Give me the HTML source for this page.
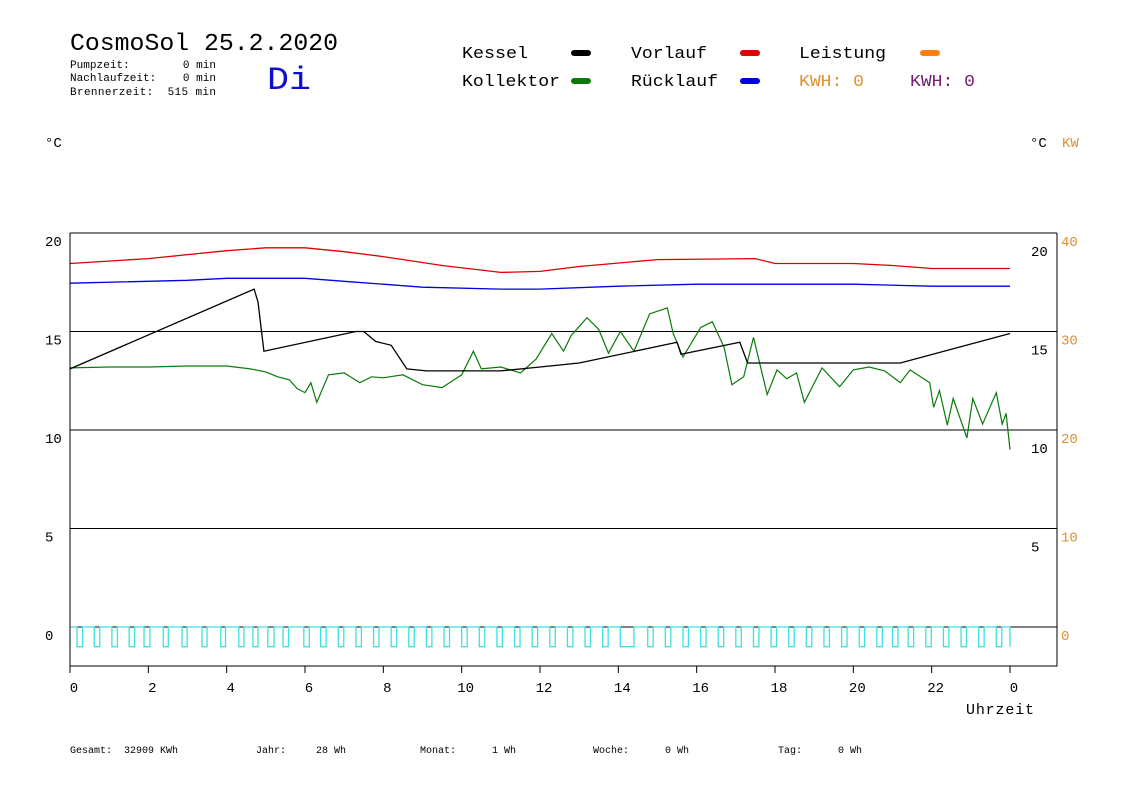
<!DOCTYPE html>
<html><head><meta charset="utf-8"><style>
body{margin:0;background:#fff;}
svg{display:block;}
text{font-family:"Liberation Mono",monospace;}
</style></head><body>
<svg id="chart" width="1148" height="812" viewBox="0 0 1148 812" xmlns="http://www.w3.org/2000/svg">
<rect width="1148" height="812" fill="#fff"/>
<text x="70" y="50" font-size="24" textLength="268" lengthAdjust="spacingAndGlyphs">CosmoSol 25.2.2020</text>
<g font-size="11" font-family="Liberation Mono" style="white-space:pre">
<text x="70" y="68" textLength="146" xml:space="preserve">Pumpzeit:        0 min</text>
<text x="70" y="81" textLength="146" xml:space="preserve">Nachlaufzeit:    0 min</text>
<text x="70" y="95" textLength="146" xml:space="preserve">Brennerzeit:  515 min</text>
</g>
<text x="267" y="89" font-size="32" fill="#1010c8" textLength="44" lengthAdjust="spacingAndGlyphs">Di</text>
<g font-size="17">
<text x="462" y="58" textLength="66" lengthAdjust="spacingAndGlyphs">Kessel</text>
<rect x="571" y="50" width="20" height="6" rx="3" fill="#000"/>
<text x="462" y="86" textLength="98" lengthAdjust="spacingAndGlyphs">Kollektor</text>
<rect x="571" y="78" width="20" height="6" rx="3" fill="#0a7a0a"/>
<text x="631" y="58" textLength="76" lengthAdjust="spacingAndGlyphs">Vorlauf</text>
<rect x="740" y="50" width="20" height="6" rx="3" fill="#e00000"/>
<text x="631" y="86" textLength="87" lengthAdjust="spacingAndGlyphs">Rücklauf</text>
<rect x="740" y="78" width="20" height="6" rx="3" fill="#0000e0"/>
<text x="799" y="58" textLength="87" lengthAdjust="spacingAndGlyphs">Leistung</text>
<rect x="920" y="50" width="20" height="6" rx="3" fill="#ff8010"/>
<text x="799" y="86" fill="#e09030" textLength="65" lengthAdjust="spacingAndGlyphs" xml:space="preserve">KWH: 0</text>
<text x="910" y="86" fill="#702070" textLength="65" lengthAdjust="spacingAndGlyphs" xml:space="preserve">KWH: 0</text>
</g>
<text x="45" y="147" font-size="14">°C</text>
<text x="1030" y="147" font-size="14">°C</text>
<text x="1062" y="147" font-size="14" fill="#e09030">KW</text>
<g id="grid"></g>
<g id="series"></g>
<g id="axes"></g>
<text x="966" y="714" font-size="15" textLength="68">Uhrzeit</text>
<g font-size="10">
<text x="70" y="753" xml:space="preserve">Gesamt:  32909 KWh</text>
<text x="256" y="753" xml:space="preserve">Jahr:     28 Wh</text>
<text x="420" y="753" xml:space="preserve">Monat:      1 Wh</text>
<text x="593" y="753" xml:space="preserve">Woche:      0 Wh</text>
<text x="778" y="753" xml:space="preserve">Tag:      0 Wh</text>
</g>
</svg>
<script>
const xTicks=[0,2,4,6,8,10,12,14,16,18,20,22,24];
const xTickLabels=["0","2","4","6","8","10","12","14","16","18","20","22","0"];
const yTicks=[0,5,10,15,20];
const kwTicks=[0,10,20,30,40];
const kesselH=[0,4.7,4.8,4.95,7.3,7.5,7.8,8.2,8.6,9.1,11,12,13,15.5,15.6,17.1,17.3,20,21.2,24];
const kesselV=[13.1,17.15,16.5,14.0,15.0,15.0,14.5,14.3,13.1,13.0,13.0,13.2,13.4,14.45,13.85,14.45,13.4,13.4,13.4,14.9];
const vorlaufH=[0,2,4,5,6,7,8,9.5,11,12,13,15,17.5,18,20,21,22,24];
const vorlaufV=[18.45,18.7,19.1,19.25,19.25,19.05,18.8,18.35,18.0,18.05,18.3,18.65,18.7,18.45,18.45,18.35,18.2,18.2];
const ruecklaufH=[0,3,4,6,7,8,9,11,12,14,16,20,22,24];
const ruecklaufV=[17.45,17.6,17.7,17.7,17.55,17.4,17.25,17.15,17.15,17.3,17.4,17.4,17.3,17.3];
const kollektorH=[0,1,2,3,4,4.6,5,5.3,5.6,5.8,6,6.15,6.3,6.6,7,7.4,7.7,8,8.5,9,9.5,10,10.3,10.5,11,11.5,11.9,12.3,12.6,12.8,13.2,13.5,13.75,14.05,14.4,14.8,15.25,15.4,15.65,16.1,16.4,16.7,16.9,17.2,17.45,17.8,18.05,18.3,18.55,18.75,19.2,19.65,20,20.4,20.8,21.2,21.45,21.95,22.05,22.2,22.4,22.55,22.9,23.05,23.3,23.65,23.8,23.9,24];
const kollektorV=[13.15,13.2,13.2,13.25,13.25,13.1,12.95,12.7,12.55,12.1,11.9,12.4,11.4,12.8,12.9,12.4,12.7,12.65,12.8,12.3,12.15,12.8,14.0,13.1,13.2,12.9,13.6,14.9,14.0,14.8,15.7,15.1,13.9,15.0,14.0,15.9,16.2,14.9,13.7,15.2,15.5,14.2,12.3,12.7,14.7,11.8,13.05,12.6,12.9,11.4,13.15,12.2,13.05,13.2,13.0,12.4,13.05,12.4,11.15,12.0,10.25,11.6,9.6,11.6,10.3,11.9,10.3,10.85,9.0];
const pulseStarts=[0.18,0.62,1.07,1.51,1.89,2.38,2.86,3.37,3.85,4.31,4.67,5.05,5.44,5.97,6.4,6.85,7.3,7.75,8.2,8.65,9.1,9.55,10.0,10.45,10.9,11.35,11.8,12.25,12.7,13.15,13.6,14.05,14.75,15.2,15.65,16.1,16.55,17.0,17.45,17.9,18.35,18.8,19.25,19.7,20.15,20.6,21.0,21.4,21.85,22.3,22.75,23.2,23.65];
const pulseWidths=[0.14,0.14,0.14,0.14,0.15,0.13,0.13,0.13,0.12,0.13,0.13,0.16,0.14,0.14,0.14,0.14,0.14,0.14,0.14,0.14,0.14,0.14,0.14,0.14,0.14,0.14,0.14,0.14,0.14,0.14,0.14,0.35,0.14,0.14,0.14,0.14,0.14,0.14,0.14,0.14,0.14,0.14,0.14,0.14,0.14,0.14,0.14,0.14,0.14,0.14,0.14,0.14,0.14];

const NS="http://www.w3.org/2000/svg";
const X0=70,X1=1010,RIGHT=1057,TOP=233,BOT=666,Y0=627,PXU=19.7;
const xs=h=>X0+h*(X1-X0)/24;
const ys=v=>Y0-v*PXU;
const ysKW=v=>Y0-v*PXU/2;
function mk(tag,attrs,parent){const e=document.createElementNS(NS,tag);for(const k in attrs)e.setAttribute(k,attrs[k]);parent.appendChild(e);return e;}
const grid=document.getElementById('grid'),series=document.getElementById('series'),axes=document.getElementById('axes');
yTicks.forEach((v,i)=>{
  const l=mk('line',{x1:X0,x2:RIGHT,y1:ys(v),y2:ys(v),stroke:'#000','stroke-width':1},grid);
  
  
  const t=mk('text',{x:45,y:ys(v)+13,'font-size':14},axes);t.textContent=v;
  
  
  if(v>0){const t2=mk('text',{x:1031,y:ys(v)+23,'font-size':14},axes);t2.textContent=v;
  
  }
});
kwTicks.forEach(v=>{
  const t=mk('text',{x:1061,y:ysKW(v)+13,'font-size':14,fill:'#e09030'},axes);t.textContent=v;
  
  
});
const ax=mk('path',{d:`M${X0} ${TOP}V${BOT}H${RIGHT}V${TOP}`,fill:'none',stroke:'#000','stroke-width':1},axes);


xTicks.forEach((h,i)=>{
  const l=mk('line',{x1:xs(h),x2:xs(h),y1:BOT,y2:BOT+7,stroke:'#000'},axes);
  
  
  const t=mk('text',{x:xs(h)+4,y:692,'font-size':14,'text-anchor':'middle'},axes);t.textContent=xTickLabels[i];
  
  
});
let d=`M${X0} ${ys(0)}`;
pulseStarts.forEach((s,i)=>{const a=xs(s),b=xs(s+pulseWidths[i]);d+=`H${a}V${ys(-1)}H${b}V${ys(0)}`;});
d+=`H${xs(24)}V${ys(-1)}`;
const p=mk('path',{d:d,fill:'none',stroke:'#40e0e0','stroke-width':1.3},series);


function line(H,V,color,name,w){
  const pts=H.map((h,i)=>xs(h).toFixed(1)+','+ys(V[i]).toFixed(1)).join(' ');
  const e=mk('polyline',{points:pts,fill:'none',stroke:color,'stroke-width':w},series);
  
  
}
line(vorlaufH,vorlaufV,'#e00000','vorlauf-line',1.3);
line(ruecklaufH,ruecklaufV,'#0000e0','ruecklauf-line',1.3);
line(kollektorH,kollektorV,'#0a7a0a','kollektor-line',1.2);
line(kesselH,kesselV,'#000','kessel-line',1.3);
</script>
</body></html>
